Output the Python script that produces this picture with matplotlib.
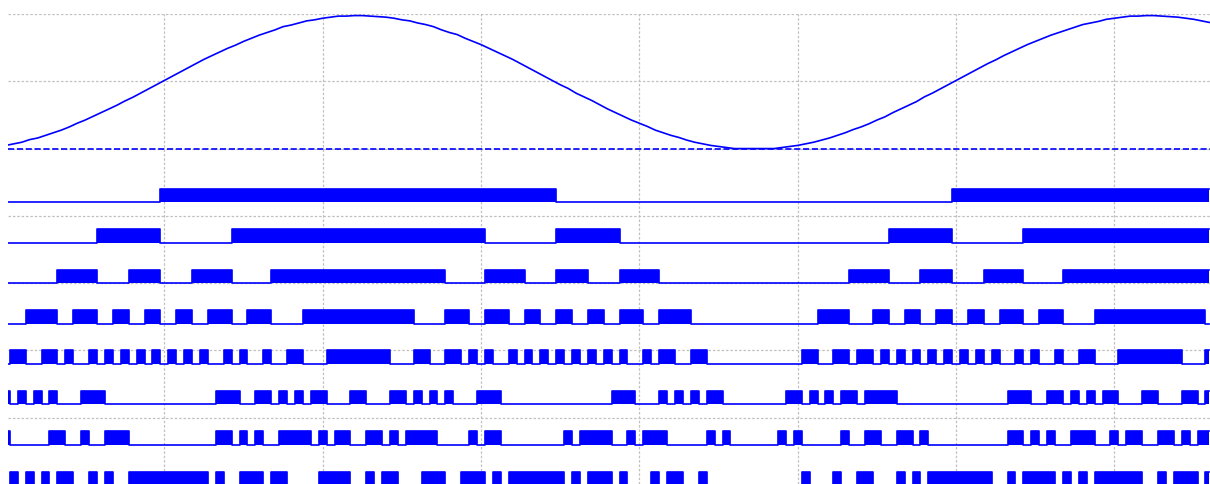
import numpy as np
import matplotlib
matplotlib.use("Agg")
import matplotlib.pyplot as plt

# 8-bit sample codes, one per sample
codes = [
    6, 9, 12, 17, 20, 25, 30, 35, 41, 48,
    54, 61, 68, 75, 82, 90, 97, 105, 113, 121,
    129, 137, 145, 153, 161, 169, 176, 183, 190, 196,
    203, 209, 215, 220, 225, 231, 234, 238, 242, 244,
    247, 249, 251, 251, 252, 252, 251, 250, 249, 247,
    244, 242, 238, 235, 231, 225, 220, 216, 209, 203,
    197, 190, 183, 176, 169, 161, 153, 145, 137, 129,
    121, 114, 105, 98, 91, 83, 75, 68, 61, 54,
    48, 42, 35, 30, 25, 21, 16, 12, 9, 6,
    4, 2, 0, 0, 0, 0, 0, 0, 2, 4,
    6, 9, 12, 16, 20, 25, 30, 36, 41, 47,
    54, 60, 68, 75, 82, 89, 98, 105, 113, 121,
    129, 137, 145, 153, 161, 168, 176, 183, 190, 197,
    203, 209, 215, 220, 225, 230, 235, 238, 241, 245,
    247, 249, 251, 251, 252, 252, 251, 250, 249, 247,
    245, 242, 239,
]
bit_weights = [7, 6, 5, 4, 3, 2, 1, 0]   # MSB on top

BLUE = "#0000ff"
FIRST_BASE = -1.8
ROW_GAP = 0.6
PULSE_H = 0.2

t = np.arange(len(codes))
code_arr = np.array(codes)
signal = code_arr / 127.5 - 1

fig = plt.figure(figsize=(12.1, 4.84), dpi=100)
ax = fig.add_axes([8 / 1210, 0, 1202 / 1210, 470 / 484])

ax.plot(t, signal, color=BLUE, lw=1.2)
ax.axhline(-1, color=BLUE, lw=1.2, ls="--")

for i, b in enumerate(bit_weights):
    bit = (code_arr >> b) & 1
    base = FIRST_BASE - ROW_GAP * i
    level = base + PULSE_H * bit
    ax.fill_between(t, base, level, step="mid", color=BLUE, lw=0)
    ax.step(t, level, where="mid", color=BLUE, lw=1.2)

ax.set_xlim(0.26, 152.07)
ax.set_ylim(-5.985, 1)
ax.set_xticks(np.arange(20, 160, 20))
ax.set_yticks(np.arange(-5, 2, 1))
ax.grid(True, color="#c0c0c0", ls=(0, (2, 1.5)), lw=0.9)
ax.set_axisbelow(True)
ax.tick_params(length=0, labelbottom=False, labelleft=False)
for s in ax.spines.values():
    s.set_visible(False)

fig.savefig("out.png", dpi=100)
